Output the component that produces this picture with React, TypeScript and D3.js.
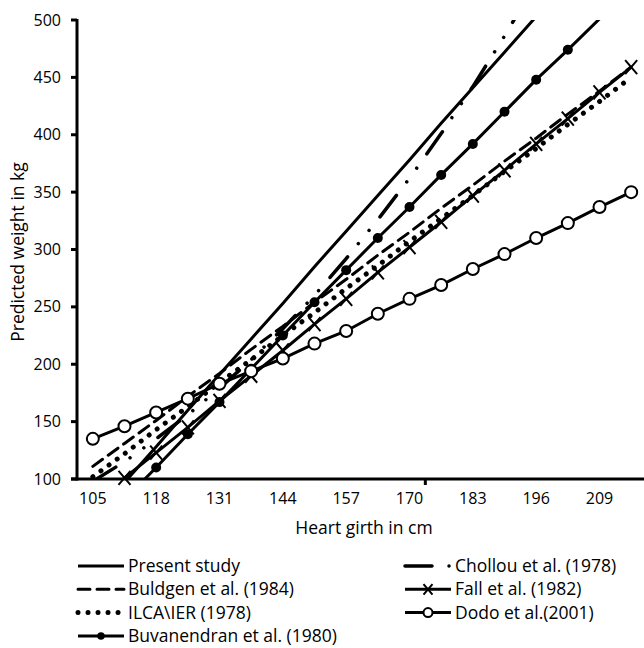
import React from 'react';
import * as d3 from 'd3';

// heart girth categories (cm)
const girth = [105, 111.5, 118, 124.5, 131, 137.5, 144, 150.5, 157, 163.5, 170, 176.5, 183, 189.5, 196, 202.5, 209, 215.5];
const xTickLabels = [105, 118, 131, 144, 157, 170, 183, 196, 209];
const yTicks = [100, 150, 200, 250, 300, 350, 400, 450, 500];

// predicted weight (kg) per equation
const presentStudy = [66, 97, 128, 160, 191, 222, 253, 285, 316, 347, 378, 410, 441, 472, 503];
const chollou = [98, 115, 135, 156, 179, 204, 231, 260, 292, 326, 362, 401, 442, 486, 533];
const buldgen = [111, 131, 151, 172, 192, 213, 233, 254, 274, 295, 315, 336, 356, 377, 397, 418, 438, 459];
const fall = [78, 101, 123, 145, 168, 190, 212, 235, 257, 280, 302, 324, 347, 369, 392, 414, 437, 459];
const ilca = [102, 122, 143, 163, 184, 204, 225, 245, 266, 286, 307, 327, 347, 368, 388, 409, 429, 450];
const buvanendran = [53, 82, 110, 139, 167, 196, 225, 254, 282, 310, 337, 365, 392, 420, 448, 474, 501];
const dodo = [135, 146, 158, 170, 183, 194, 205, 218, 229, 244, 257, 269, 283, 296, 310, 323, 337, 350];

const FONT = '"Open Sans", Lato, sans-serif';

type Series = {
  name: string;
  values: number[];
  dash?: string;
  width: number;
  marker?: 'x' | 'dot' | 'ring';
};

const series: Series[] = [
  { name: 'Present study', values: presentStudy, width: 3 },
  { name: 'Buldgen et al. (1984)', values: buldgen, dash: '12 7', width: 3 },
  { name: 'ILCA\\IER (1978)', values: ilca, dash: '0.01 10', width: 5 },
  { name: 'Buvanendran et al. (1980)', values: buvanendran, width: 3, marker: 'dot' },
  { name: 'Chollou et al. (1978)', values: chollou, dash: '27 17 0.01 17 0.01 17.5', width: 3.5 },
  { name: 'Fall et al. (1982)', values: fall, width: 3, marker: 'x' },
  { name: 'Dodo et al.(2001)', values: dodo, width: 3, marker: 'ring' },
];

const Marker = ({ kind, cx, cy, k = 1 }: { kind?: string; cx: number; cy: number; k?: number }) => {
  if (kind === 'dot') return <circle cx={cx} cy={cy} r={5 * k} fill="#000" />;
  if (kind === 'ring') return <circle cx={cx} cy={cy} r={6 * k} fill="#fff" stroke="#000" strokeWidth={2} />;
  if (kind === 'x')
    return (
      <path
        d={`M${cx - 6 * k},${cy - 7 * k}L${cx + 6 * k},${cy + 7 * k}M${cx - 6 * k},${cy + 7 * k}L${cx + 6 * k},${cy - 7 * k}`}
        stroke="#000"
        strokeWidth={2}
      />
    );
  return null;
};

export default function App() {
  const width = 644;
  const height = 648;
  const left = 77, right = 647, top = 20, bottom = 479;
  const titleSize = 17.5;

  const x = d3.scaleLinear().domain([101.75, 218.75]).range([left, right]);
  const y = d3.scaleLinear().domain([100, 500]).range([bottom, top]);

  const line = d3.line<number>()
    .x((d, i) => x(girth[i]))
    .y((d) => y(d));

  // single tick mark on the category axis
  const catTick = x(173.25);

  const legendRows = [
    { s: series[0], col: 0, row: 0 },
    { s: series[1], col: 0, row: 1 },
    { s: series[2], col: 0, row: 2 },
    { s: series[3], col: 0, row: 3 },
    { s: series[4], col: 1, row: 0 },
    { s: series[5], col: 1, row: 1 },
    { s: series[6], col: 1, row: 2 },
  ];

  return (
    <svg
      width={width}
      height={height}
      style={{ position: 'absolute', left: 0, top: 0, background: '#fff' }}
      fontFamily={FONT}
    >
      <defs>
        <clipPath id="plot">
          <rect x={left} y={top} width={right - left} height={bottom - top} />
        </clipPath>
      </defs>

      {/* series lines */}
      <g clipPath="url(#plot)">
        {series.map((s) => (
          <path
            key={s.name}
            d={line(s.values) || ''}
            fill="none"
            stroke="#000"
            strokeWidth={s.width}
            strokeDasharray={s.dash}
            strokeLinecap={s.dash ? 'round' : 'butt'}
          />
        ))}
      </g>

      {/* markers */}
      {series.filter((s) => s.marker).map((s) => (
        <g key={s.name + '-m'}>
          {s.values.map((v, i) =>
            v >= 100 && v <= 500 ? <Marker key={i} kind={s.marker} cx={x(girth[i])} cy={y(v)} /> : null
          )}
        </g>
      ))}

      {/* y axis */}
      <line x1={left} x2={left} y1={top - 1} y2={bottom + 1.5} stroke="#000" strokeWidth={3} />
      {yTicks.map((t) => (
        <g key={t}>
          <line x1={left - 6} x2={left} y1={y(t)} y2={y(t)} stroke="#000" strokeWidth={3} />
          <text x={left - 16} y={y(t)} dy="0.35em" textAnchor="end" fontSize={16} fill="#000">
            {t}
          </text>
        </g>
      ))}
      <text
        transform={`translate(18,252) rotate(-90)`}
        textAnchor="middle"
        dy="0.35em"
        fontSize={titleSize}
      >
        Predicted weight in kg
      </text>

      {/* x axis */}
      <line x1={left - 6} x2={width} y1={bottom} y2={bottom} stroke="#000" strokeWidth={3} />
      <line x1={catTick} x2={catTick} y1={bottom} y2={bottom + 6} stroke="#000" strokeWidth={3} />
      {xTickLabels.map((t) => (
        <text key={t} x={x(t)} y={498} dy="0.35em" textAnchor="middle" fontSize={16}>
          {t}
        </text>
      ))}
      <text x={364} y={528} dy="0.35em" textAnchor="middle" fontSize={titleSize}>
        Heart girth in cm
      </text>

      {/* legend */}
      {legendRows.map(({ s, col, row }) => {
        const lx = col === 0 ? 78 : 405;
        const ly = 566 + row * 23.3;
        const len = 46;
        return (
          <g key={s.name + '-lg'}>
            <line
              x1={lx}
              x2={lx + len}
              y1={ly}
              y2={ly}
              stroke="#000"
              strokeWidth={s.width}
              strokeDasharray={s.dash}
              strokeLinecap={s.dash ? 'round' : 'butt'}
            />
            {s.marker && <Marker kind={s.marker} cx={lx + len / 2} cy={ly} k={0.75} />}
            <text x={lx + len + 4} y={ly} dy="0.35em" fontSize={titleSize}>
              {s.name}
            </text>
          </g>
        );
      })}
    </svg>
  );
}
